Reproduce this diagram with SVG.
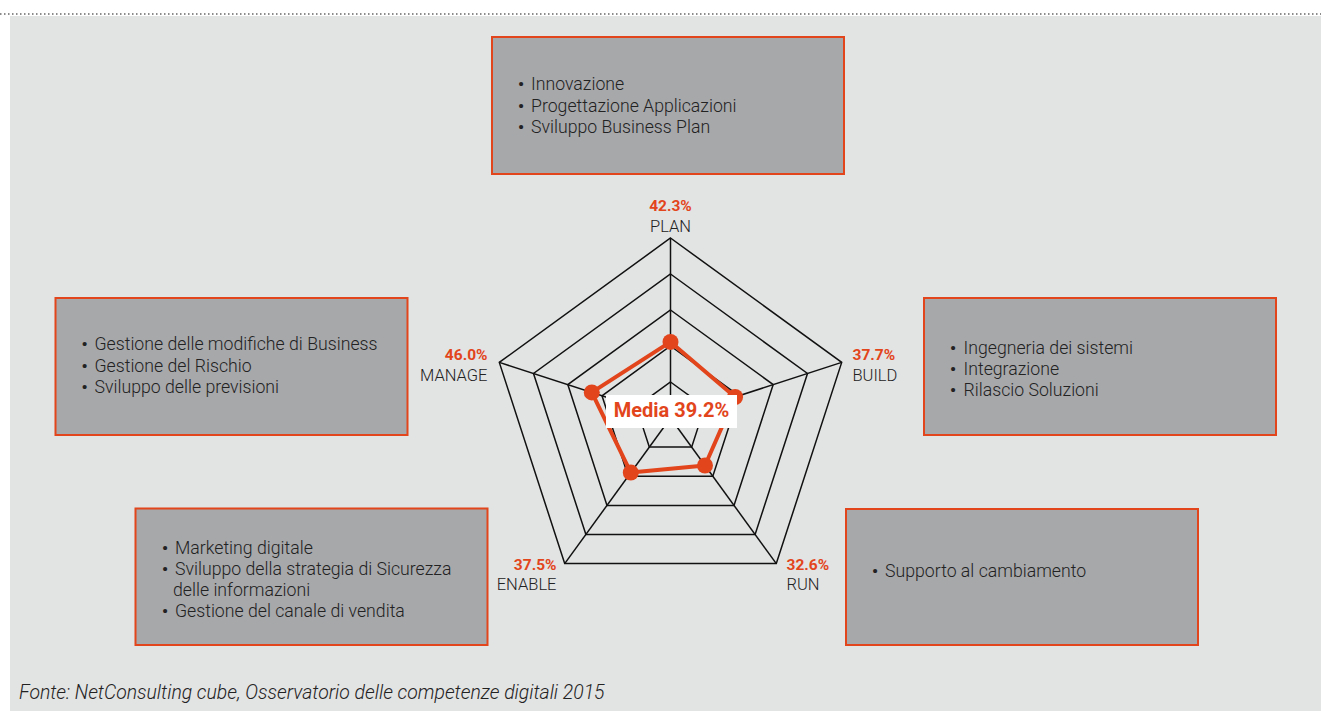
<svg xmlns="http://www.w3.org/2000/svg" width="1321" height="711" viewBox="0 0 1321 711">
<style>
.box{fill:#a7a8aa;stroke:#e2451b;stroke-width:2}
.bt{font-family:Roboto,"Liberation Sans",sans-serif;font-weight:300;font-size:17.7px;fill:#222}
.bu{font-weight:700;font-size:17px}
.pct{font-family:Roboto,"Liberation Sans",sans-serif;font-weight:700;font-size:15.5px;fill:#e2451b}
.ax{font-family:Roboto,"Liberation Sans",sans-serif;font-weight:300;font-size:16.5px;fill:#222}
.ring{fill:none;stroke:#111;stroke-width:1.5;stroke-linejoin:miter}
.spoke{stroke:#111;stroke-width:1.5}
.data{fill:none;stroke:#e2451b;stroke-width:4;stroke-linejoin:round}
.dot{fill:#e2451b}
</style>
<rect x="10" y="16" width="1311" height="695" fill="#e2e3e3"/>
<line x1="0" y1="14" x2="1321" y2="14" stroke="#666" stroke-width="1.5" stroke-dasharray="1.5,2.5"/>

<g id="chart">
<polygon class="ring" points="670.5,238 841.7,362.4 776.3,563.6 564.7,563.6 499.3,362.4"/>
<polygon class="ring" points="670.5,274 807.5,373.5 755.1,534.5 585.9,534.5 533.5,373.5"/>
<polygon class="ring" points="670.5,310 773.2,384.6 734.0,505.4 607.0,505.4 567.8,384.6"/>
<polygon class="ring" points="670.5,346 739.0,395.8 712.8,476.2 628.2,476.2 602.0,395.8"/>
<polygon class="ring" points="670.5,382 704.7,406.9 691.7,447.1 649.3,447.1 636.3,406.9"/>
<line class="spoke" x1="670.5" y1="418" x2="670.5" y2="238"/>
<line class="spoke" x1="670.5" y1="418" x2="841.7" y2="362.4"/>
<line class="spoke" x1="670.5" y1="418" x2="776.3" y2="563.6"/>
<line class="spoke" x1="670.5" y1="418" x2="564.7" y2="563.6"/>
<line class="spoke" x1="670.5" y1="418" x2="499.3" y2="362.4"/>
<polygon class="data" points="670.5,341.9 735.1,397.0 705.0,465.5 630.8,472.6 591.8,392.4"/>
<circle class="dot" cx="670.5" cy="341.9" r="8"/>
<circle class="dot" cx="735.1" cy="397.0" r="8"/>
<circle class="dot" cx="705.0" cy="465.5" r="8"/>
<circle class="dot" cx="630.8" cy="472.6" r="8"/>
<circle class="dot" cx="591.8" cy="392.4" r="8"/>
<rect x="606" y="395" width="131" height="33" fill="#fff"/>
<text x="671.5" y="417" text-anchor="middle" font-family="Roboto,'Liberation Sans',sans-serif" font-weight="700" font-size="20" fill="#e2451b">Media 39.2%</text>
</g>

<g id="axis-labels">
<text class="pct" x="670.5" y="211" text-anchor="middle">42.3%</text>
<text class="ax" x="670.5" y="231.5" text-anchor="middle">PLAN</text>
<text class="pct" x="852.5" y="360">37.7%</text>
<text class="ax" x="852.5" y="380.5">BUILD</text>
<text class="pct" x="487.5" y="360" text-anchor="end">46.0%</text>
<text class="ax" x="487.5" y="380.5" text-anchor="end">MANAGE</text>
<text class="pct" x="556.5" y="570" text-anchor="end">37.5%</text>
<text class="ax" x="556.5" y="589.5" text-anchor="end">ENABLE</text>
<text class="pct" x="786.5" y="570">32.6%</text>
<text class="ax" x="786.5" y="589.5">RUN</text>
</g>

<g id="box-plan">
<rect class="box" x="492" y="37" width="352" height="137"/>
<text class="bt" x="518" y="90"><tspan class="bu">•</tspan><tspan x="531">Innovazione</tspan></text>
<text class="bt" x="518" y="111.5"><tspan class="bu">•</tspan><tspan x="531">Progettazione Applicazioni</tspan></text>
<text class="bt" x="518" y="133"><tspan class="bu">•</tspan><tspan x="531">Sviluppo Business Plan</tspan></text>
</g>

<g id="box-build">
<rect class="box" x="924" y="298" width="352" height="137"/>
<text class="bt" x="950" y="353.5"><tspan class="bu">•</tspan><tspan x="963.5">Ingegneria dei sistemi</tspan></text>
<text class="bt" x="950" y="375"><tspan class="bu">•</tspan><tspan x="963.5">Integrazione</tspan></text>
<text class="bt" x="950" y="396"><tspan class="bu">•</tspan><tspan x="963.5">Rilascio Soluzioni</tspan></text>
</g>

<g id="box-manage">
<rect class="box" x="55.5" y="298" width="352" height="137"/>
<text class="bt" x="81.5" y="349.5"><tspan class="bu">•</tspan><tspan x="94.5">Gestione delle modifiche di Business</tspan></text>
<text class="bt" x="81.5" y="371.5"><tspan class="bu">•</tspan><tspan x="94.5">Gestione del Rischio</tspan></text>
<text class="bt" x="81.5" y="392.5"><tspan class="bu">•</tspan><tspan x="94.5">Sviluppo delle previsioni</tspan></text>
</g>

<g id="box-enable">
<rect class="box" x="135.5" y="508.5" width="352" height="136.5"/>
<text class="bt" x="162" y="554"><tspan class="bu">•</tspan><tspan x="175">Marketing digitale</tspan></text>
<text class="bt" x="162" y="575"><tspan class="bu">•</tspan><tspan x="175">Sviluppo della strategia di Sicurezza</tspan></text>
<text class="bt" x="173" y="596">delle informazioni</text>
<text class="bt" x="162" y="617"><tspan class="bu">•</tspan><tspan x="175">Gestione del canale di vendita</tspan></text>
</g>

<g id="box-run">
<rect class="box" x="846" y="509" width="352" height="136"/>
<text class="bt" x="872" y="577"><tspan class="bu">•</tspan><tspan x="885">Supporto al cambiamento</tspan></text>
</g>

<text x="19" y="699" font-family="Roboto,'Liberation Sans',sans-serif" font-weight="300" font-style="italic" font-size="19.4" fill="#222">Fonte: NetConsulting cube, Osservatorio delle competenze digitali 2015</text>
</svg>
